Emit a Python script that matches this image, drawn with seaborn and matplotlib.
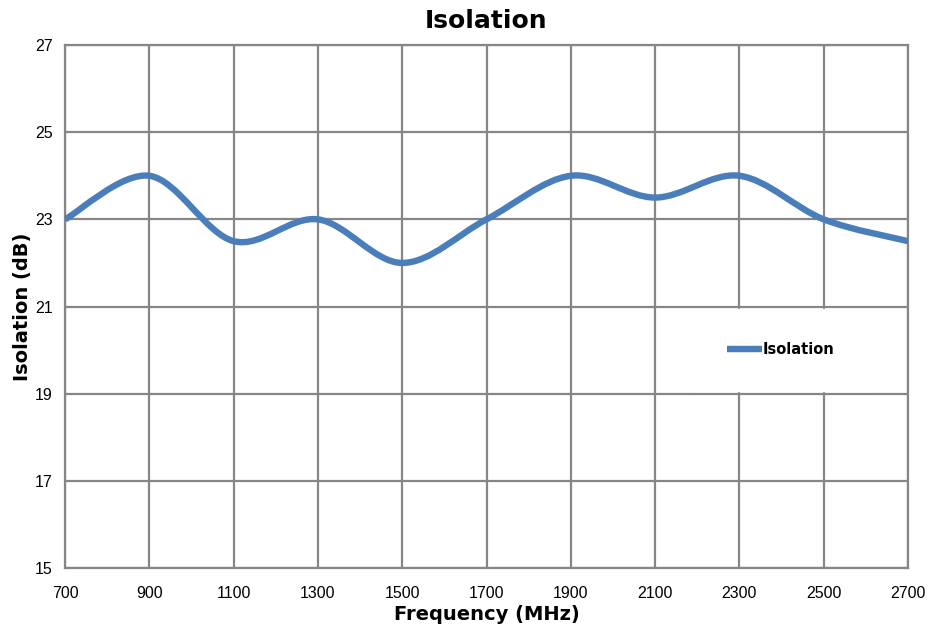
import matplotlib
matplotlib.use("Agg")
import matplotlib.pyplot as plt
import numpy as np
import seaborn as sns
from matplotlib.lines import Line2D
from matplotlib.patches import PathPatch
from matplotlib.path import Path

# --- data ---
freq_mhz = [700, 900, 1100, 1300, 1500, 1700, 1900, 2100, 2300, 2500, 2700]
isolation_db = [23.0, 24.0, 22.5, 23.0, 22.0, 23.0, 24.0, 23.5, 24.0, 23.0, 22.5]
x_ticks = [700, 900, 1100, 1300, 1500, 1700, 1900, 2100, 2300, 2500, 2700]
y_ticks = [15, 17, 19, 21, 23, 25, 27]

LINE_COLOR = "#4a7ebb"
GRID_COLOR = "#868686"

sns.set_style("white")
plt.rcParams["font.family"] = ["Liberation Sans", "DejaVu Sans"]
plt.rcParams["text.color"] = "black"

fig = plt.figure(figsize=(9.29, 6.28), dpi=100)
ax = fig.add_axes([0.070, 0.0955, 0.9074, 0.8328])

# seaborn draws the series; its vertices are then used for an Excel-style smoothed path
sns.lineplot(x=freq_mhz, y=isolation_db, ax=ax, color=LINE_COLOR, linewidth=4.6)
raw = ax.lines[0]
pts = raw.get_xydata()
raw.remove()

# cubic bezier segments (Catmull-Rom style control points), rendered by matplotlib
verts = [tuple(pts[0])]
codes = [Path.MOVETO]
n = len(pts)
for i in range(n - 1):
    p0 = pts[max(i - 1, 0)]
    p1 = pts[i]
    p2 = pts[i + 1]
    p3 = pts[min(i + 2, n - 1)]
    c1 = p1 + (p2 - p0) / 6.0
    c2 = p2 - (p3 - p1) / 6.0
    verts += [tuple(c1), tuple(c2), tuple(p2)]
    codes += [Path.CURVE4] * 3
ax.add_patch(PathPatch(Path(verts, codes), facecolor="none", edgecolor=LINE_COLOR,
                       linewidth=4.6, capstyle="butt", joinstyle="round", zorder=3))

ax.set_xlim(700, 2700)
ax.set_ylim(15, 27)
ax.set_xticks(x_ticks)
ax.set_yticks(y_ticks)
ax.grid(True, color=GRID_COLOR, linewidth=1.6)
ax.set_axisbelow(True)
for s in ax.spines.values():
    s.set_color(GRID_COLOR)
    s.set_linewidth(1.6)
ax.tick_params(axis="both", direction="out", length=4, width=1.6, color=GRID_COLOR,
               labelsize=11.5, labelcolor="black")
ax.tick_params(axis="x", pad=9)
ax.tick_params(axis="y", pad=5)

bold = dict(family=["DejaVu Sans"], fontweight="bold", color="black")
ax.set_title("Isolation", fontsize=18, pad=12, **bold)
ax.set_xlabel("Frequency (MHz)", fontsize=14, labelpad=3, **bold)
ax.set_ylabel("Isolation (dB)", fontsize=14, labelpad=2, **bold)

handle = Line2D([], [], color=LINE_COLOR, linewidth=4.6, solid_capstyle="butt")
leg = ax.legend([handle], ["Isolation"], loc="center left", bbox_to_anchor=(0.737, 0.417),
                frameon=True, fancybox=False, handlelength=2.4, handletextpad=0.05,
                borderpad=2.3, prop={"family": "DejaVu Sans", "weight": "bold", "size": 10.5})
leg.get_frame().set_edgecolor("white")
leg.get_frame().set_facecolor("white")
leg.get_frame().set_alpha(1.0)

fig.savefig("out.png", dpi=100)
